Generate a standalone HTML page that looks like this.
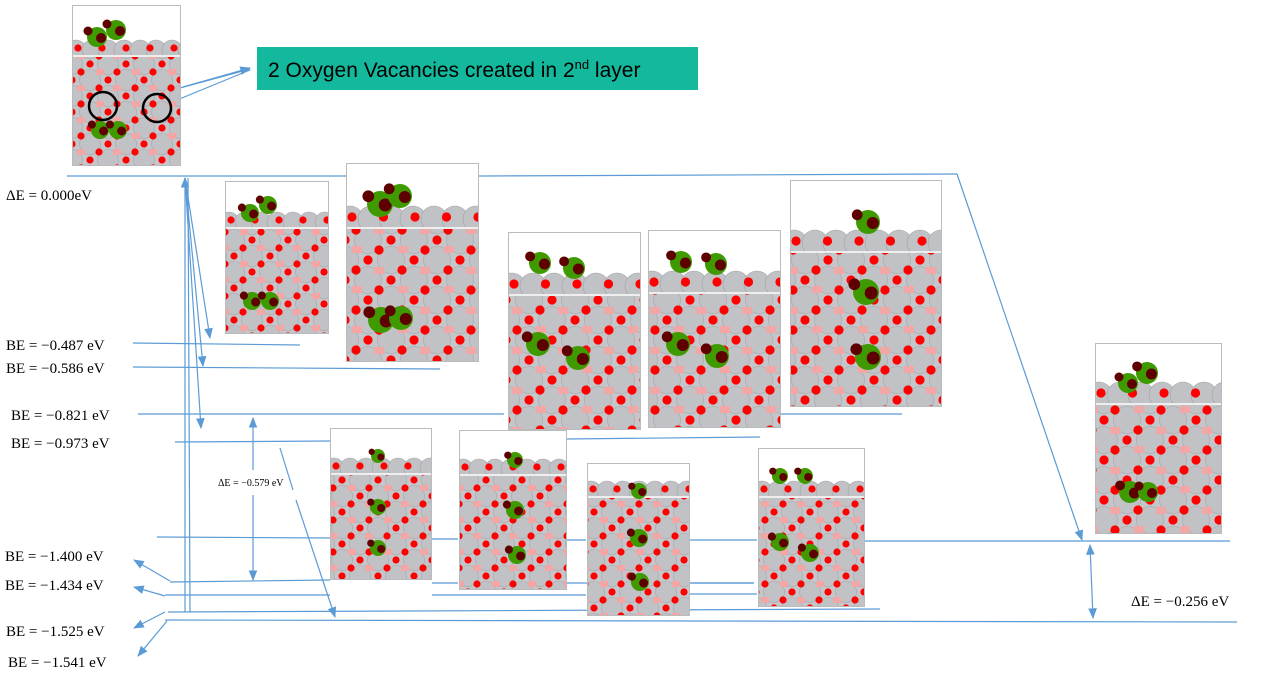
<!DOCTYPE html>
<html><head><meta charset="utf-8">
<style>
html,body{margin:0;padding:0;background:#fff;}
svg{display:block;}
.lbl{font-family:"Liberation Serif",serif;font-size:15px;fill:#000;}
</style></head>
<body>
<svg id="c" width="1271" height="674" viewBox="0 0 1271 674" xmlns="http://www.w3.org/2000/svg">
<defs>
<marker id="ah" viewBox="0 0 10 10" refX="9" refY="5" markerWidth="9" markerHeight="9" orient="auto-start-reverse"><path d="M0,1 L10,5 L0,9 z" fill="#5b9bd5"/></marker>
<pattern id="latS" width="36" height="32" patternUnits="userSpaceOnUse">
<rect width="36" height="32" fill="#c4c6ca"/>
<circle cx="0" cy="0" r="10.5" fill="#c0c2c6" stroke="#a3a5a8" stroke-width="0.6"/>
<circle cx="36" cy="0" r="10.5" fill="#c0c2c6" stroke="#a3a5a8" stroke-width="0.6"/>
<circle cx="0" cy="32" r="10.5" fill="#c0c2c6" stroke="#a3a5a8" stroke-width="0.6"/>
<circle cx="36" cy="32" r="10.5" fill="#c0c2c6" stroke="#a3a5a8" stroke-width="0.6"/>
<circle cx="18" cy="16" r="10.5" fill="#c0c2c6" stroke="#a3a5a8" stroke-width="0.6"/>
<rect x="24" y="5" width="8" height="6" fill="#f3a6a6"/>
<rect x="5" y="21" width="8" height="6" fill="#f3a6a6"/>
<circle cx="9" cy="8" r="3.6" fill="#f00"/>
<circle cx="27" cy="24" r="3.6" fill="#f00"/>
<circle cx="18" cy="0" r="3.6" fill="#f00"/>
<circle cx="18" cy="32" r="3.6" fill="#f00"/>
<circle cx="0" cy="16" r="3.6" fill="#f00"/>
<circle cx="36" cy="16" r="3.6" fill="#f00"/>
</pattern>
<pattern id="latL" width="46" height="40" patternUnits="userSpaceOnUse">
<rect width="46" height="40" fill="#c4c6ca"/>
<circle cx="0" cy="0" r="13.5" fill="#c0c2c6" stroke="#a3a5a8" stroke-width="0.6"/>
<circle cx="46" cy="0" r="13.5" fill="#c0c2c6" stroke="#a3a5a8" stroke-width="0.6"/>
<circle cx="0" cy="40" r="13.5" fill="#c0c2c6" stroke="#a3a5a8" stroke-width="0.6"/>
<circle cx="46" cy="40" r="13.5" fill="#c0c2c6" stroke="#a3a5a8" stroke-width="0.6"/>
<circle cx="23" cy="20" r="13.5" fill="#c0c2c6" stroke="#a3a5a8" stroke-width="0.6"/>
<rect x="30" y="6" width="10" height="7" fill="#f3a6a6"/>
<rect x="6" y="27" width="10" height="7" fill="#f3a6a6"/>
<circle cx="11" cy="10" r="4.6" fill="#f00"/>
<circle cx="34" cy="30" r="4.6" fill="#f00"/>
<circle cx="23" cy="0" r="4.6" fill="#f00"/>
<circle cx="23" cy="40" r="4.6" fill="#f00"/>
<circle cx="0" cy="20" r="4.6" fill="#f00"/>
<circle cx="46" cy="20" r="4.6" fill="#f00"/>
</pattern>
</defs>
<g id="lines"></g>
<g id="panels"></g>
<g id="labels"></g>
<g>
<rect x="257" y="47" width="441" height="43" fill="#14b89c"/>
<text x="268" y="77" font-family="Liberation Sans, sans-serif" font-size="21" fill="#000">2 Oxygen Vacancies created in 2<tspan font-size="13" dy="-8">nd</tspan><tspan dy="8"> layer</tspan></text>
</g>
</svg>
<script>
// energy levels (eV) and their labels
const levelValues = [0.000, -0.487, -0.586, -0.821, -0.973, -1.400, -1.434, -1.525, -1.541];
const levelLabels = ["ΔE = 0.000eV","BE = −0.487 eV","BE = −0.586 eV","BE = −0.821 eV","BE = −0.973 eV","BE = −1.400 eV","BE = −1.434 eV","BE = −1.525 eV","BE = −1.541 eV"];
const deltaLabels = ["ΔE = −0.579 eV","ΔE = −0.256 eV"];

const NS="http://www.w3.org/2000/svg";
function mk(tag,attrs,parent){const e=document.createElementNS(NS,tag);for(const k in attrs)e.setAttribute(k,attrs[k]);parent.appendChild(e);return e;}
const LG=document.getElementById('lines'), PG=document.getElementById('panels'), TG=document.getElementById('labels');
const blue="#5b9bd5";
function line(x1,y1,x2,y2,arrowEnd,arrowStart){
  const l=mk('line',{x1,y1,x2,y2,stroke:blue,'stroke-width':1.2},LG);
  if(arrowEnd)l.setAttribute('marker-end','url(#ah)');
  if(arrowStart)l.setAttribute('marker-start','url(#ah)');
  
  
  return l;
}
[[67,176,483,176],[483,176,957,174],[133,343,300,345],[133,367,440,369],[138,414,504,414],[780,414,902,414],[175,442,330,441],[567,439,760,437],
 [157,537,330,538],[432,539,458,539],[567,540,586,540],[690,540,757,540],[865,541,1230,541],
 [170,582,330,580],[432,583,458,583],[567,583,754,583],[690,583,754,583],
 [165,595,330,595],[432,595,586,595],[690,594,757,594],
 [168,612,880,609],[165,620,1237,622]].forEach(s=>line(...s));
line(957,174,1082,540,true);
line(185,612,185,178,true);
line(185,178,210,338,true);
line(185,178,203,366,true);
line(185,178,201,428,true);
line(188,178,190,612,false);
line(253,418,253,470,false,true);line(253,495,253,580,true);
line(280,448,293,490,false);line(296,500,335,617,true);
line(1090,545,1093,618,true,true);
line(170,581,134,560,true);
line(165,596,134,587,true);
line(165,612,134,628,true);
line(167,621,138,656,true);
line(183,87,250,68,true);line(110,107,250,69,false);line(160,107,250,70,false);

const panels=[
 [72,5,109,161,56,0,[[97,37,10],[116,30,10],[100,130,9],[118,130,9]]],
 [225,181,104,153,228,0,[[250,213,9],[268,205,9],[252,301,9],[270,301,9]]],
 [346,163,133,199,228,1,[[380,204,13],[400,196,12],[381,320,13],[401,318,12]]],
 [508,232,133,198,295,1,[[540,263,11],[574,268,11],[538,344,12],[578,358,12]]],
 [648,230,133,198,293,1,[[681,262,11],[716,264,11],[678,344,12],[717,356,12]]],
 [790,180,152,227,252,1,[[868,222,12],[866,292,13],[868,357,13]]],
 [1095,343,127,191,404,1,[[1128,383,10],[1147,373,11],[1130,492,11],[1148,492,10]]],
 [330,428,102,152,474,0,[[378,456,7],[378,507,8],[378,548,8]]],
 [459,430,108,160,475,0,[[515,460,8],[515,510,9],[517,555,9]]],
 [587,463,103,153,497,0,[[639,491,8],[639,538,9],[640,582,9]]],
 [758,448,107,159,497,0,[[780,476,8],[805,476,8],[780,542,9],[810,553,9]]]
];
panels.forEach((p,i)=>{
  const [x,y,w,h,d,L,gr]=p;
  const g=mk('g',{},PG);
  
  
  const cid='clip'+i;
  const cp=mk('clipPath',{id:cid},g);mk('rect',{x,y,width:w,height:h},cp);
  const inner=mk('g',{'clip-path':'url(#'+cid+')'},g);
  mk('rect',{x,y,width:w,height:h,fill:'#fff'},inner);
  const r=L?13:10, step=L?21:16;
  for(let cx=x+4;cx<x+w+r;cx+=step){
    mk('circle',{cx,cy:d-r+4,r,fill:'#c0c2c6',stroke:'#a0a2a5','stroke-width':0.6},inner);
  }
  for(let cx=x+6;cx<x+w;cx+=step*1.5){
    mk('circle',{cx,cy:d-r+2,r:L?4.6:3.6,fill:'#f00'},inner);
  }
  mk('rect',{x,y:d+1,width:w,height:y+h-d-1,fill:'url(#'+(L?'latL':'latS')+')'},inner);
  mk('line',{x1:x,y1:d,x2:x+w,y2:d,stroke:'#eee','stroke-width':2},inner);
  gr.forEach(c=>{
    mk('circle',{cx:c[0],cy:c[1],r:c[2],fill:'#3f9a00'},inner);
    mk('circle',{cx:c[0]+c[2]*0.4,cy:c[1]+1,r:c[2]*0.5,fill:'#5e0000'},inner);
    mk('circle',{cx:c[0]-c[2]*0.9,cy:c[1]-c[2]*0.6,r:c[2]*0.45,fill:'#5e0000'},inner);
  });
  mk('rect',{x:x+0.5,y:y+0.5,width:w-1,height:h-1,fill:'none',stroke:'#bbb','stroke-width':1},g);
});
[[103,106],[157,108]].forEach(c=>{const e=mk('circle',{cx:c[0],cy:c[1],r:14,fill:'none',stroke:'#000','stroke-width':2.5},PG);
});

const labelPos=[[6,200],[6,350],[6,373],[11,420],[11,448],[5,561],[5,590],[6,636],[8,667]];
levelLabels.forEach((t,i)=>{
  const e=mk('text',{x:labelPos[i][0],y:labelPos[i][1],class:'lbl'},TG);
  e.textContent=t;
  
  
});
const d1=mk('text',{x:218,y:486,class:'lbl'},TG);d1.setAttribute('style','font-size:10px');d1.textContent=deltaLabels[0];

const d2=mk('text',{x:1131,y:606,class:'lbl'},TG);d2.textContent=deltaLabels[1];

</script>
</body></html>
